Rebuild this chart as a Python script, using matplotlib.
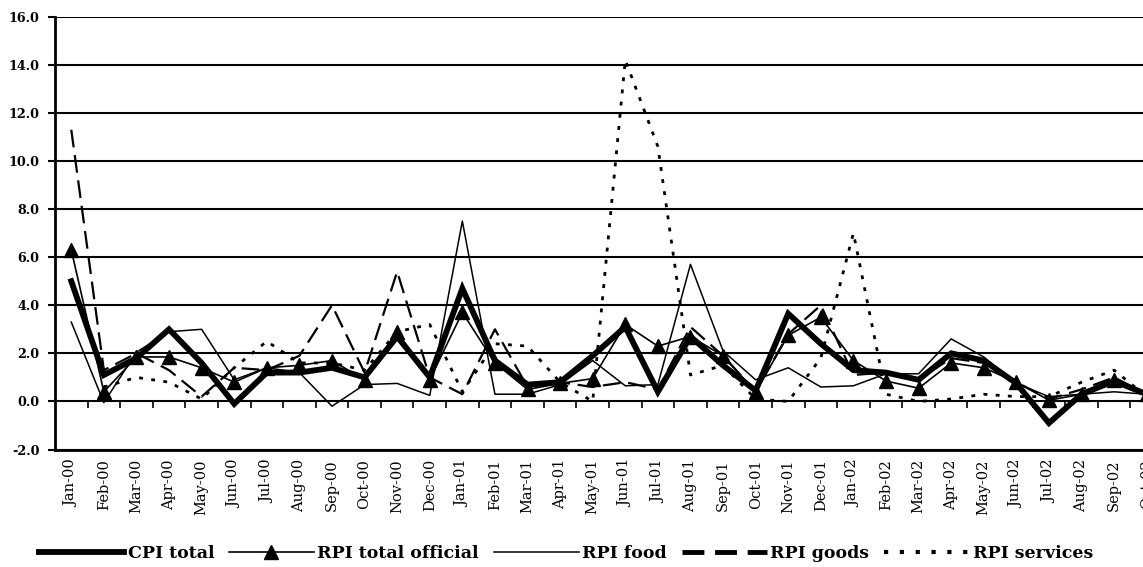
import numpy as np
import matplotlib.pyplot as plt

months = ["Jan-00", "Feb-00", "Mar-00", "Apr-00", "May-00", "Jun-00", "Jul-00", "Aug-00",
          "Sep-00", "Oct-00", "Nov-00", "Dec-00", "Jan-01", "Feb-01", "Mar-01", "Apr-01",
          "May-01", "Jun-01", "Jul-01", "Aug-01", "Sep-01", "Oct-01", "Nov-01", "Dec-01",
          "Jan-02", "Feb-02", "Mar-02", "Apr-02", "May-02", "Jun-02", "Jul-02", "Aug-02",
          "Sep-02", "Oct-02"]

cpi_total = [5.0, 1.1, 1.8, 3.0, 1.6, -0.1, 1.2, 1.2, 1.4, 1.0, 2.7, 1.0,
             4.7, 1.7, 0.7, 0.8, 1.9, 3.1, 0.4, 2.7, 1.5, 0.45, 3.65, 2.4,
             1.3, 1.2, 0.9, 2.0, 1.7, 0.75, -0.9, 0.3, 0.85, 0.3]
rpi_official = [6.3, 0.4, 1.85, 1.85, 1.4, 0.8, 1.4, 1.5, 1.7, 0.9, 2.9, 0.9,
                3.7, 1.6, 0.5, 0.75, 0.95, 3.2, 2.3, 2.7, 1.9, 0.4, 2.75, 3.5,
                1.7, 0.85, 0.55, 1.6, 1.4, 0.8, 0.05, 0.3, 0.9, 0.3]
rpi_food = [3.3, -0.05, 2.05, 2.9, 3.0, 0.9, 1.4, 1.2, -0.2, 0.7, 0.75, 0.25,
            7.5, 0.3, 0.3, 0.7, 1.7, 0.65, 0.7, 5.7, 2.1, 0.9, 1.4, 0.6,
            0.65, 1.15, 1.15, 2.6, 1.85, 0.75, 0.2, 0.3, 0.4, 0.3]
rpi_goods = [11.3, 1.3, 2.0, 1.3, 0.2, 1.4, 1.3, 1.9, 4.0, 1.2, 5.4, 1.0,
             0.3, 3.0, 0.6, 0.8, 0.6, 0.8, 0.5, 3.1, 1.9, 0.4, 2.8, 4.0,
             1.1, 1.2, 0.9, 1.8, 1.6, 0.8, 0.1, 0.5, 1.0, 0.3]
rpi_services = [np.nan, 0.6, 1.0, 0.8, 0.1, 1.4, 2.5, 1.6, 1.6, 1.3, 2.9, 3.2,
                0.4, 2.4, 2.3, 0.8, 0.0, 14.2, 10.6, 1.1, 1.5, 0.1, 0.0, 1.8,
                7.0, 0.3, 0.0, 0.1, 0.3, 0.2, 0.2, 0.8, 1.3, 0.2]

plt.rcParams["font.family"] = "DejaVu Serif"

fig = plt.figure(figsize=(11.43, 5.67), dpi=100)
ax = fig.add_axes([0.0481, 0.2072, 0.9694, 0.7633])

x = np.arange(len(months))
ax.plot(x, cpi_total, color="black", lw=4.2, solid_joinstyle="miter", label="CPI total")
ax.plot(x, rpi_official, color="black", lw=1.2, marker="^", markersize=10.5, label="RPI total official")
ax.plot(x, rpi_food, color="black", lw=1.1, label="RPI food")
ax.plot(x, rpi_goods, color="black", lw=1.6, dashes=(8, 3.5), label="RPI goods")
ax.plot(x, rpi_services, color="black", lw=2.0, dashes=(1.4, 3), label="RPI services")

ax.set_xlim(-0.5, len(months) - 0.5)
ax.set_ylim(-2, 16)
yt = np.arange(-2, 17, 2)
ax.set_yticks(yt)
ax.set_yticklabels(["%.1f" % v for v in yt], fontweight="bold", fontsize=9.2)
ax.yaxis.grid(True, color="black", lw=1.5)
ax.set_axisbelow(True)
ax.tick_params(axis="y", length=5, width=1.5, pad=6)

ax.set_xticks(x)
ax.set_xticklabels(months, rotation=90, fontsize=10.5)
ax.tick_params(axis="x", length=0, pad=7)

for side in ["top", "right"]:
    ax.spines[side].set_visible(False)
ax.spines["left"].set_linewidth(2)
ax.spines["bottom"].set_linewidth(2)

# category boundary ticks sitting on the zero line
zero_axis = ax.secondary_xaxis(2 / 18)
zero_axis.set_xticks(np.arange(0.5, len(months) - 0.5, 1))
zero_axis.set_xticklabels([])
zero_axis.tick_params(length=5, width=1.2, direction="out")
zero_axis.spines["bottom"].set_visible(False)

leg = fig.legend(loc="lower left", bbox_to_anchor=(0.025, -0.01), ncol=5, frameon=False,
                 prop={"weight": "bold", "size": 12.5}, handlelength=4.9, handletextpad=0.2,
                 columnspacing=0.85, borderaxespad=0.2)
# heavier dashes and dots in the key
key_lines = leg.get_lines()
key_lines[3].set_linewidth(3.5)
key_lines[3].set_dashes((4.5, 2.2))
key_lines[4].set_linewidth(3.0)
key_lines[4].set_dashes((1.0, 2.8))

fig.savefig("out.png", dpi=100)
